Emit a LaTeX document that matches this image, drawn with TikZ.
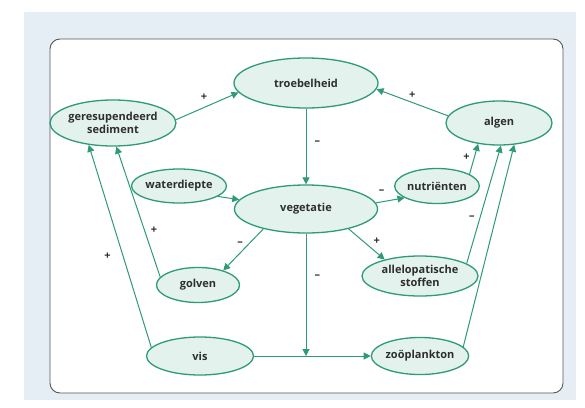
\documentclass[tikz,border=0pt]{standalone}
\usepackage{fontspec}
\setmainfont{Open Sans}
\usetikzlibrary{shapes.geometric,arrows.meta}
\definecolor{paper}{HTML}{FFFFFF}
\definecolor{photo}{HTML}{E6EEF5}
\definecolor{frame}{HTML}{555555}
\definecolor{leaf}{HTML}{2E9B76}
\definecolor{mint}{HTML}{E3F2EC}
\definecolor{ink}{HTML}{2E2E2E}
\tikzset{
  blob/.style={ellipse, draw=leaf, line width=1.3pt, fill=mint, inner sep=0pt, text=ink, align=center, font=\bfseries\fontsize{11}{13}\selectfont},
  link/.style={draw=leaf, line width=1pt, -{Triangle[length=7pt,width=7pt]}},
  sign/.style={text=ink, inner sep=1pt, font=\bfseries\fontsize{11}{11}\selectfont}
}

\begin{document}
\begin{tikzpicture}[x=1pt,y=-1pt]
\useasboundingbox (0,0) rectangle (585,407);
\fill[photo] (24,12) rectangle (576,400);
\draw[frame, fill=paper, line width=0.9pt, rounded corners=10pt] (50,39) rectangle (563,393);

\node[blob, minimum width=144pt, minimum height=50pt] (troebel) at (306,83) {troebelheid};
\node[blob, minimum width=107pt, minimum height=46pt] (sediment) at (113,123) {geresupendeerd\\sediment};
\node[blob, minimum width=106pt, minimum height=44pt] (algen) at (499,123) {algen};
\node[blob, minimum width=82pt, minimum height=34pt] (water) at (179,186) {waterdiepte};
\node[blob, minimum width=143pt, minimum height=48pt] (veg) at (306,209) {vegetatie};
\node[blob, minimum width=83pt, minimum height=35pt] (nutr) at (437,186) {nutriënten};
\node[blob, minimum width=83pt, minimum height=35pt] (golven) at (198,285) {golven};
\node[blob, minimum width=116pt, minimum height=40pt] (allelo) at (420,276) {allelopatische\\stoffen};
\node[blob, minimum width=107pt, minimum height=38pt] (vis) at (200,356) {vis};
\node[blob, minimum width=95pt, minimum height=37pt] (zoo) at (420,356) {zoöplankton};

\draw[link] (sediment.3) -- (troebel.188) node[sign, pos=.45, above=5pt] {+};
\draw[link] (algen.172) -- (troebel.355) node[sign, pos=.5, above=3pt] {+};
\draw[link] (troebel) -- (veg) node[sign, pos=.45, right=7pt] {–};
\draw[link] (water.-15) -- (veg.172);
\draw[link] (veg.5) -- (nutr.200) node[sign, pos=.2, above=7pt] {–};
\draw[link] (nutr.20) -- (algen.225) node[sign, pos=.55, left=3pt] {+};
\draw[link] (allelo.15) -- (algen.275) node[sign, pos=.39, left=4pt] {–};
\draw[link] (zoo.12) -- (algen.305);
\draw[link] (veg.205) -- (golven.30) node[sign, pos=.35, left=5pt] {–};
\draw[link] (veg.-25) -- (allelo.155) node[sign, pos=.4, right=9pt] {+};
\draw[link] (golven.168) -- (sediment.-82) node[sign, pos=.36, right=5pt] {+};
\draw[link] (vis.170) -- (sediment.222) node[sign, pos=.45, left=11pt] {+};
\draw[link] (vis) -- (zoo);
\draw[link] (veg) -- (veg |- vis) node[sign, pos=.35, right=7pt] {–};
\end{tikzpicture}
\end{document}
